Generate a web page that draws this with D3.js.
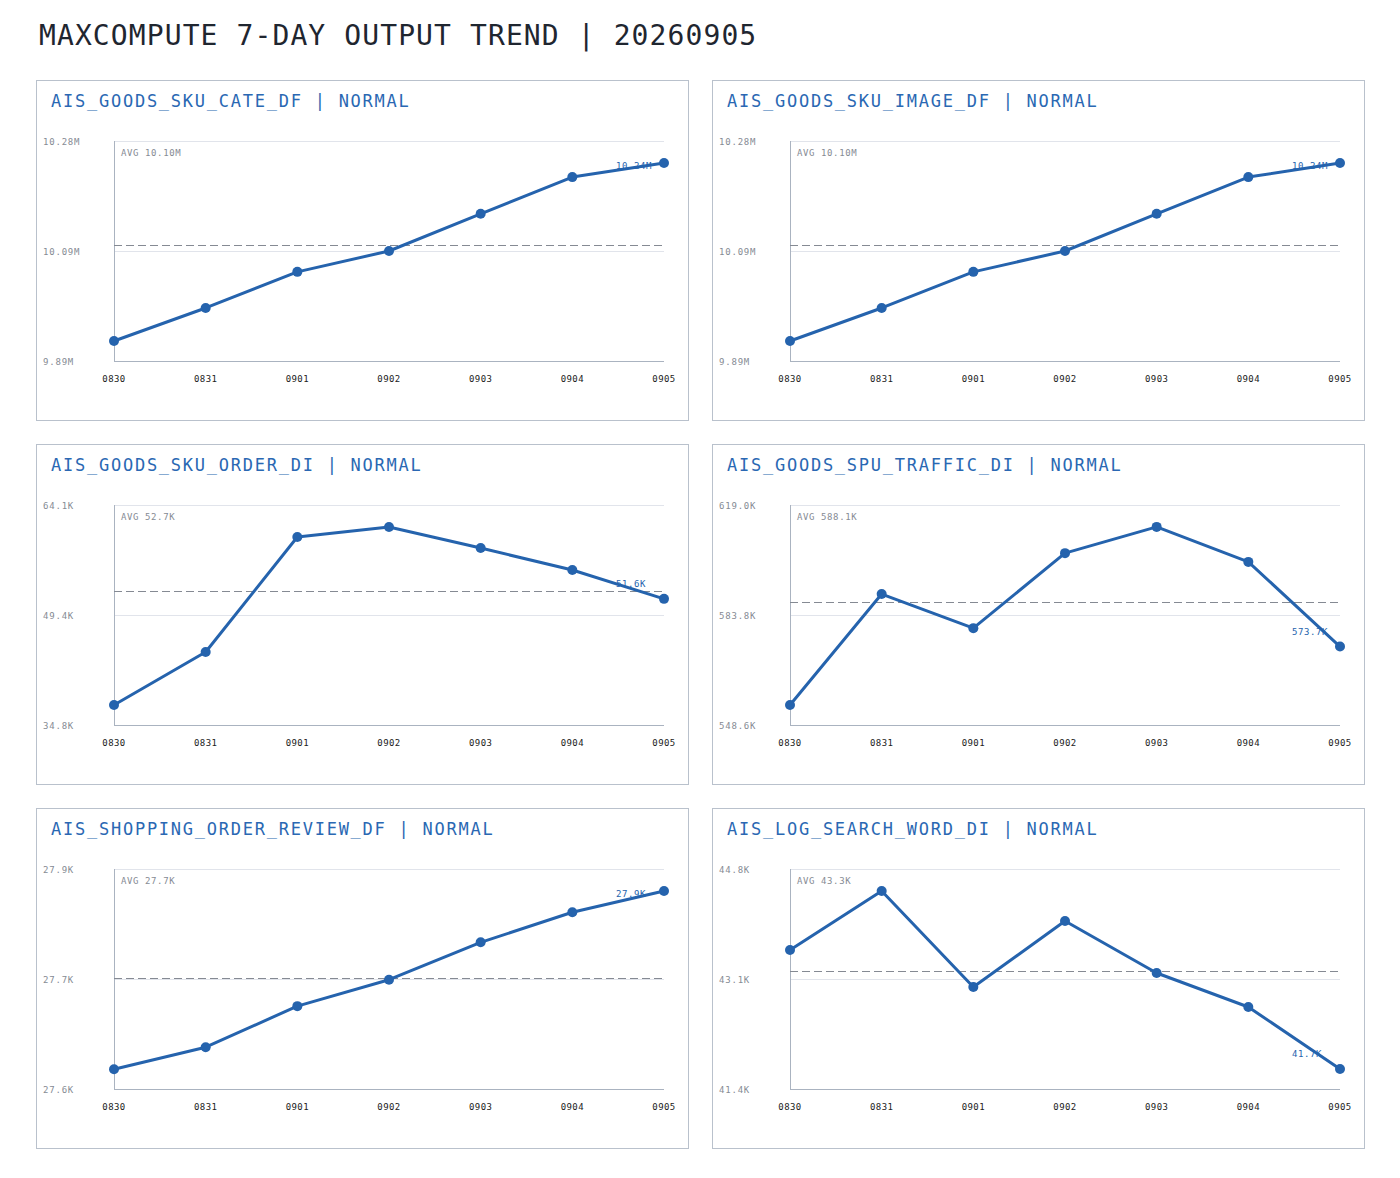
<!DOCTYPE html>
<html>
<head>
<meta charset="utf-8">
<script src="https://cdn.jsdelivr.net/npm/d3@7"></script>
<style>
  body { margin: 0; background: #fff; }
  svg { display: block; font-family: "DejaVu Sans Mono", "Liberation Mono", monospace; }
</style>
</head>
<body>
<svg id="chart" width="1400" height="1178"></svg>
<script>
// Days shown on every panel
const days = ["0830", "0831", "0901", "0902", "0903", "0904", "0905"];

// Table names, in panel order
const tables = [
  "AIS_GOODS_SKU_CATE_DF", "AIS_GOODS_SKU_IMAGE_DF",
  "AIS_GOODS_SKU_ORDER_DI", "AIS_GOODS_SPU_TRAFFIC_DI",
  "AIS_SHOPPING_ORDER_REVIEW_DF", "AIS_LOG_SEARCH_WORD_DI"
];
const statuses = ["NORMAL", "NORMAL", "NORMAL", "NORMAL", "NORMAL", "NORMAL"];

// Daily output rows per table
const skuCate    = [9925500, 9984000, 10048000, 10085000, 10151000, 10216000, 10241000];
const skuImage   = [9925500, 9984000, 10048000, 10085000, 10151000, 10216000, 10241000];
const skuOrder   = [37460, 44520, 59840, 61170, 58370, 55440, 51600];
const spuTraffic = [555000, 590500, 579600, 603600, 612000, 600800, 573700];
const orderReview = [27627, 27657, 27713, 27749, 27800, 27841, 27870];
const searchWord = [43548, 44460, 42976, 43996, 43193, 42667, 41709];
const series = [skuCate, skuImage, skuOrder, spuTraffic, orderReview, searchWord];

// Average lines and their labels
const avgValues = [10095500, 10095500, 52650, 588000, 27751, 43220];
const avgLabels = ["10.10M", "10.10M", "52.7K", "588.1K", "27.7K", "43.3K"];

// y domains and tick labels (top, middle, bottom)
const yDomains = [
  [9890000, 10280000], [9890000, 10280000], [34800, 64100],
  [548600, 619000], [27600, 27900], [41400, 44800]
];
const yTickLabels = [
  ["10.28M", "10.09M", "9.89M"], ["10.28M", "10.09M", "9.89M"],
  ["64.1K", "49.4K", "34.8K"], ["619.0K", "583.8K", "548.6K"],
  ["27.9K", "27.7K", "27.6K"], ["44.8K", "43.1K", "41.4K"]
];

const blue = "#2563ad";
const fmt = v => v >= 1e6 ? (v / 1e6).toFixed(2) + "M" : (v / 1e3).toFixed(1) + "K";

const svg = d3.select("#chart");

// Page title
svg.append("text")
  .attr("x", 39)
  .attr("y", 45)
  .attr("fill", "#1f2630")
  .style("font-size", "28px")
  .style("letter-spacing", "1.1px")
  .text("MAXCOMPUTE 7-DAY OUTPUT TREND | 20260905");

const panelW = 652, panelH = 340;

tables.forEach((name, i) => {
  const col = i % 2, row = Math.floor(i / 2);
  const x0 = 36 + col * 676, y0 = 80 + row * 364;
  const g = svg.append("g").attr("transform", `translate(${x0},${y0})`);

  // Panel frame
  g.append("rect")
    .attr("x", 0.5).attr("y", 0.5)
    .attr("width", panelW).attr("height", panelH)
    .attr("fill", "#fff")
    .attr("stroke", "#b9c1cc");

  g.append("text")
    .attr("x", 15)
    .attr("y", 27)
    .attr("fill", "#2a68b3")
    .style("font-size", "17px")
    .style("letter-spacing", "1.75px")
    .text(`${name} | ${statuses[i]}`);

  const left = 78, right = 628, top = 61, bottom = 281;

  const x = d3.scalePoint().domain(days).range([left, right]);
  const y = d3.scaleLinear().domain(yDomains[i]).range([bottom, top]);

  const [lo, hi] = yDomains[i];
  const tickVals = [hi, (lo + hi) / 2, lo];

  // Grid lines (top and middle)
  g.selectAll(".grid")
    .data(tickVals.slice(0, 2))
    .enter()
    .append("line")
    .attr("x1", left).attr("x2", right)
    .attr("y1", d => Math.round(y(d)) + 0.5)
    .attr("y2", d => Math.round(y(d)) + 0.5)
    .attr("stroke", "#e1e4eb");

  // Axes lines
  g.append("line")
    .attr("x1", left + 0.5).attr("x2", left + 0.5)
    .attr("y1", top).attr("y2", bottom)
    .attr("stroke", "#aab3c0");
  g.append("line")
    .attr("x1", left).attr("x2", right)
    .attr("y1", bottom + 0.5).attr("y2", bottom + 0.5)
    .attr("stroke", "#aab3c0");

  // y tick labels
  g.selectAll(".ytick")
    .data(tickVals)
    .enter()
    .append("text")
    .attr("x", 7)
    .attr("y", d => y(d) + 4)
    .attr("fill", "#868b94")
    .style("font-size", "9px")
    .style("letter-spacing", "0.8px")
    .text((d, k) => yTickLabels[i][k]);

  // x tick labels
  g.selectAll(".xtick")
    .data(days)
    .enter()
    .append("text")
    .attr("x", d => x(d))
    .attr("y", bottom + 21)
    .attr("text-anchor", "middle")
    .attr("fill", "#222")
    .style("font-size", "9px")
    .style("letter-spacing", "0.4px")
    .text(d => d);

  // Average
  g.append("line")
    .attr("x1", left).attr("x2", right)
    .attr("y1", Math.round(y(avgValues[i])) + 0.5)
    .attr("y2", Math.round(y(avgValues[i])) + 0.5)
    .attr("stroke", "#858a93")
    .attr("stroke-dasharray", "8,4");
  g.append("text")
    .attr("x", left + 7)
    .attr("y", top + 15)
    .attr("fill", "#868b94")
    .style("font-size", "9px")
    .style("letter-spacing", "0.6px")
    .text("AVG " + avgLabels[i]);

  const pts = series[i].map((v, k) => ({ day: days[k], v }));

  g.append("path")
    .datum(pts)
    .attr("fill", "none")
    .attr("stroke", blue)
    .attr("stroke-width", 3)
    .attr("stroke-linejoin", "round")
    .attr("d", d3.line().x(d => x(d.day)).y(d => y(d.v)));

  g.selectAll(".dot")
    .data(pts)
    .enter()
    .append("circle")
    .attr("cx", d => x(d.day))
    .attr("cy", d => y(d.v))
    .attr("r", 5)
    .attr("fill", blue);

  // Last value label
  const last = pts[pts.length - 1];
  g.append("text")
    .attr("x", x(last.day) - 48)
    .attr("y", Math.max(y(last.v) - 12, top + 28))
    .attr("fill", blue)
    .style("font-size", "9px")
    .style("letter-spacing", "0.6px")
    .text(fmt(last.v));
});
</script>
</body>
</html>
